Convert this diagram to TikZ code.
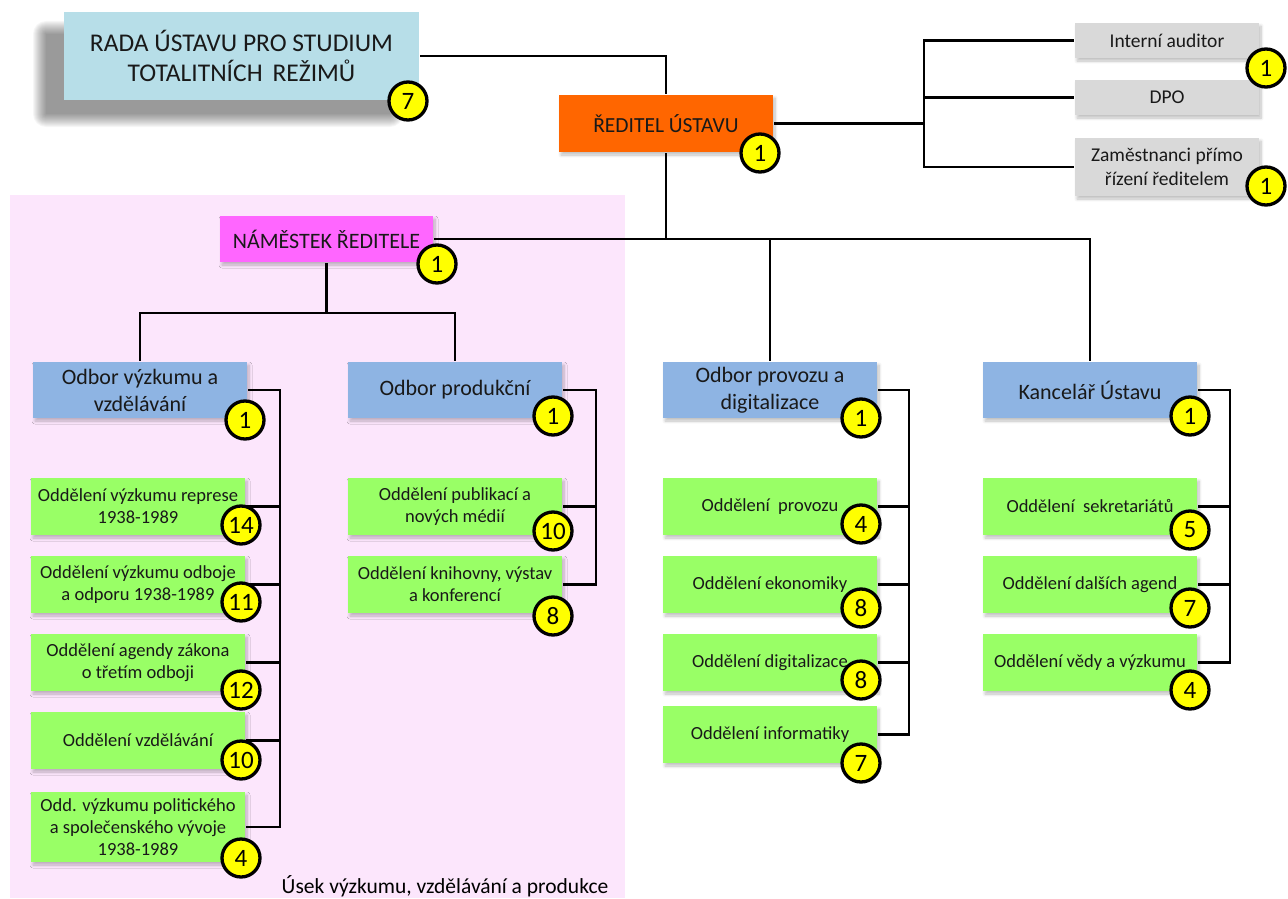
\documentclass[tikz,border=0pt]{standalone}
\usepackage{fontspec}
\setmainfont{Carlito}
\usetikzlibrary{positioning,calc,shadows.blur}
\definecolor{radablue}{HTML}{B7DEE8}
\definecolor{reditelorange}{HTML}{FF6600}
\definecolor{namestekpink}{HTML}{FF66FF}
\definecolor{odborblue}{HTML}{8EB4E3}
\definecolor{oddgreen}{HTML}{99FF66}
\definecolor{staffgray}{HTML}{D9D9D9}
\definecolor{usekpink}{HTML}{FCE6FC}
\definecolor{badgeyellow}{HTML}{FFFF00}

\begin{document}
\begin{tikzpicture}[x=1pt, y=-1pt, line width=2.7pt]
\tikzstyle{unit}=[inner sep=0pt, align=center, text=black!90, blur shadow={shadow xshift=2pt, shadow yshift=-3pt, shadow blur radius=3pt, shadow blur steps=8, shadow opacity=25}]
\tikzstyle{oddel}=[unit, fill=oddgreen, minimum width=214pt, minimum height=57pt, font=\fontsize{18.5}{22}\selectfont]
\tikzstyle{odbor}=[unit, fill=odborblue, minimum width=214pt, minimum height=56pt, font=\fontsize{22}{27}\selectfont]
\tikzstyle{staff}=[unit, fill=staffgray, minimum width=184pt, minimum height=35pt, font=\fontsize{19.5}{24}\selectfont]
\tikzstyle{badge}=[circle, draw=black, line width=3.3pt, fill=badgeyellow, minimum size=38pt, inner sep=0pt, font=\fontsize{25}{25}\selectfont]
\tikzstyle{link}=[draw=black, line width=2.7pt]

\useasboundingbox (0,0) rectangle (1288,899);

% usek vyzkumu
\fill[usekpink] (10,195) rectangle (625,898);
\node[anchor=base east, font=\fontsize{21.5}{24}\selectfont] (usek) at (613,893) {Úsek výzkumu, vzdělávání a produkce};

% vedeni (rozmazany stin rady)
\foreach \i in {0,...,13}
  \fill[black, opacity=0.035, rounded corners=\i pt] (46-\i,34-\i) rectangle (390+\i,114+\i);
\node[inner sep=0pt, align=center, text=black!90, fill=radablue, minimum width=355pt, minimum height=88pt, font=\fontsize{25.5}{30}\selectfont]
  (rada) at (241.5,56) {RADA ÚSTAVU PRO STUDIUM\\TOTALITNÍCH \,REŽIMŮ};
\node[unit, fill=reditelorange, minimum width=214pt, minimum height=57pt, font=\fontsize{21.5}{26}\selectfont]
  (reditel) at (666,123.5) {ŘEDITEL ÚSTAVU};
\node[unit, fill=namestekpink, minimum width=213pt, minimum height=46pt, font=\fontsize{22}{26}\selectfont]
  (namestek) at (326.5,239) {NÁMĚSTEK ŘEDITELE};

\node[staff] (audit) at (1167,40.5) {Interní auditor};
\node[staff] (dpo) at (1167,97.5) {DPO};
\node[staff, minimum height=58pt] (zam) at (1167,167) {Zaměstnanci přímo\\řízení ředitelem};

% odbory
\node[odbor] (vyzkum) at (140,390) {Odbor výzkumu a\\vzdělávání};
\node[odbor] (produkce) at (455,390) {Odbor produkční};
\node[odbor] (provoz) at (770,390) {Odbor provozu a\\digitalizace};
\node[odbor] (kancelar) at (1090,390) {Kancelář Ústavu};

% oddeleni
\node[oddel] (r1) at (138,506.5) {Oddělení výzkumu represe\\1938-1989};
\node[oddel] (r2) at (138,584.5) {Oddělení výzkumu odboje\\a odporu 1938-1989};
\node[oddel] (r3) at (138,662.5) {Oddělení agendy zákona\\o třetím odboji};
\node[oddel] (r4) at (138,740.5) {Oddělení vzdělávání};
\node[oddel, minimum height=70pt] (r5) at (138,827) {Odd. výzkumu politického\\a společenského vývoje\\1938-1989};

\node[oddel] (p1) at (455,506.5) {Oddělení publikací a\\nových médií};
\node[oddel] (p2) at (455,584.5) {Oddělení knihovny, výstav\\a konferencí};

\node[oddel] (v1) at (770,506.5) {Oddělení \ provozu};
\node[oddel] (v2) at (770,584.5) {Oddělení ekonomiky};
\node[oddel] (v3) at (770,662.5) {Oddělení digitalizace};
\node[oddel] (v4) at (770,734.5) {Oddělení informatiky};

\node[oddel] (k1) at (1090,506.5) {Oddělení \ sekretariátů};
\node[oddel] (k2) at (1090,584.5) {Oddělení dalších agend};
\node[oddel] (k3) at (1090,662.5) {Oddělení vědy a výzkumu};

% spojnice
\coordinate (jR) at (924,123.5);
\coordinate (jM) at (326.5,313);
\draw[link] (rada.east) -| (reditel.north);
\draw[link] (reditel.east) -- (jR);
\draw[link] (audit.west) -- (audit.west -| jR) -- (zam.west -| jR) -- (zam.west);
\draw[link] (dpo.west) -- (dpo.west -| jR);
\draw[link] (reditel.south) -- (reditel.south |- namestek.east);
\draw[link] (namestek.east) -- (namestek.east -| kancelar.north) -- (kancelar.north);
\draw[link] (provoz.north) -- (provoz.north |- namestek.east);
\draw[link] (namestek.south) -- (jM);
\draw[link] (vyzkum.north) |- (jM) -| (produkce.north);

\coordinate (bV) at (280,390);
\coordinate (bP) at (596,390);
\coordinate (bO) at (909,390);
\coordinate (bK) at (1230,390);
\draw[link] (vyzkum.east) -- (bV) -- (bV |- r5.east) -- (r5.east);
\foreach \n in {r1,r2,r3,r4}
  \draw[link] (\n.east) -- (\n.east -| bV);
\draw[link] (produkce.east) -- (bP) -- (bP |- p2.east) -- (p2.east);
\draw[link] (p1.east) -- (p1.east -| bP);
\draw[link] (provoz.east) -- (bO) -- (bO |- v4.east) -- (v4.east);
\foreach \n in {v1,v2,v3}
  \draw[link] (\n.east) -- (\n.east -| bO);
\draw[link] (kancelar.east) -- (bK) -- (bK |- k3.east) -- (k3.east);
\foreach \n in {k1,k2}
  \draw[link] (\n.east) -- (\n.east -| bK);

% pocty zamestnancu
\node[badge] (nRada) at (408,101) {7};
\node[badge] (nReditel) at (760,153) {1};
\node[badge] (nAudit) at (1266,68) {1};
\node[badge] (nZam) at (1266,186) {1};
\node[badge] (nNamestek) at (437,264) {1};
\node[badge] (nVyzkum) at (245,420) {1};
\node[badge] (nProdukce) at (553,416) {1};
\node[badge] (nProvoz) at (861,418) {1};
\node[badge] (nKancelar) at (1190,416) {1};
\node[badge] (nR1) at (241,525) {14};
\node[badge] (nR2) at (241,602) {11};
\node[badge] (nR3) at (241,690) {12};
\node[badge] (nR4) at (241,760) {10};
\node[badge] (nR5) at (241,858) {4};
\node[badge] (nP1) at (553,531) {10};
\node[badge] (nP2) at (553,616) {8};
\node[badge] (nV1) at (861,524) {4};
\node[badge] (nV2) at (861,608) {8};
\node[badge] (nV3) at (861,680) {8};
\node[badge] (nV4) at (861,763) {7};
\node[badge] (nK1) at (1190,530) {5};
\node[badge] (nK2) at (1190,608) {7};
\node[badge] (nK3) at (1190,690) {4};
\end{tikzpicture}
\end{document}
